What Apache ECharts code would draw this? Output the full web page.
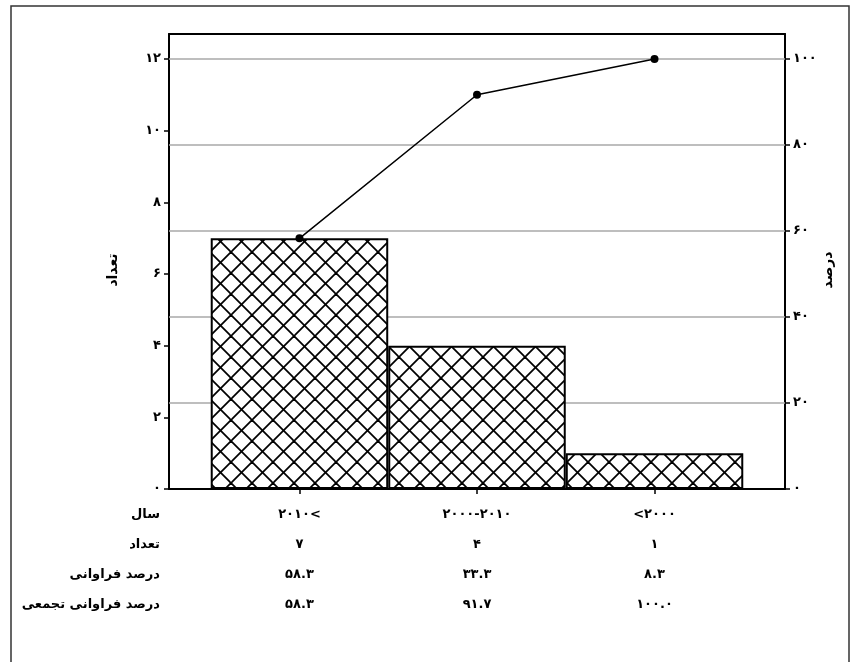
<!DOCTYPE html>
<html><head><meta charset="utf-8">
<script src="https://cdn.jsdelivr.net/npm/echarts@6/dist/echarts.min.js"></script>
<style>html,body{margin:0;padding:0;background:#fff}#c{width:850px;height:662px}</style>
</head><body><div id="c"></div>
<script>
// ---- data ----
const categories = ['۲۰۱۰<', '۲۰۰۰-۲۰۱۰', '<۲۰۰۰'];
const counts = [7, 4, 1];
const percents = [58.3, 33.3, 8.3];
const cumPercents = [58.3, 91.7, 100.0];
const rowTitles = ['سال', 'تعداد', 'درصد فراوانی', 'درصد فراوانی تجمعی'];
const leftTicks = [0, 2, 4, 6, 8, 10, 12];
const rightTicks = [0, 20, 40, 60, 80, 100];
const gridTicks = [20, 40, 60, 80, 100];
const leftTitle = 'تعداد';
const rightTitle = 'درصد';

// ---- helpers ----
const fa = s => String(s).replace(/[0-9]/g, d => '۰۱۲۳۴۵۶۷۸۹'[d]);
const ltr = s => '\u202D' + s + '\u202C';
const catIdx = categories.map((_, i) => i);
const FONT = 'DejaVu Sans';

const pc = document.createElement('canvas');
pc.width = 21; pc.height = 21;
const g = pc.getContext('2d');
g.fillStyle = '#fff'; g.fillRect(0, 0, 21, 21);
g.strokeStyle = '#000'; g.lineWidth = 1.8;
for (const o of [-21, 0, 21]) {
  g.beginPath(); g.moveTo(o - 3, -3); g.lineTo(o + 24, 24); g.stroke();
  g.beginPath(); g.moveTo(o + 24, -3); g.lineTo(o - 3, 24); g.stroke();
}

const chart = echarts.init(document.getElementById('c'), null, {renderer: 'canvas'});
const leftMax = 12.7;
const rightMax = leftMax / 12 * 100;

const option = {
  backgroundColor: '#fff',
  animation: false,
  grid: {left: 169, right: 65, top: 34, bottom: 173},
  xAxis: [{
    type: 'value', position: 'bottom', min: -0.735, max: 2.735,
    axisLine: {show: true, onZero: false, lineStyle: {color: '#000', width: 2}},
    axisTick: {show: true, customValues: catIdx, length: 5, lineStyle: {color: '#000', width: 1.5}},
    axisLabel: {
      customValues: catIdx, margin: 11, lineHeight: 30,
      fontFamily: FONT, fontWeight: 'bold', fontSize: 13, color: '#000',
      formatter: v => {
        const i = Math.round(v);
        return [ltr(categories[i]), fa(counts[i]), fa(percents[i].toFixed(1)), fa(cumPercents[i].toFixed(1))].join('\n');
      }
    },
    splitLine: {show: false}
  }, {
    type: 'value', position: 'top', min: -0.735, max: 2.735,
    axisLine: {show: true, onZero: false, lineStyle: {color: '#000', width: 2}},
    axisTick: {show: false}, axisLabel: {show: false}, splitLine: {show: false}
  }],
  yAxis: [{
    type: 'value', position: 'left', min: 0, max: leftMax,
    axisLine: {show: true, onZero: false, lineStyle: {color: '#000', width: 2}},
    axisTick: {show: true, customValues: leftTicks, length: 5, lineStyle: {color: '#000', width: 1.5}},
    axisLabel: {customValues: leftTicks, formatter: v => fa(v), margin: 8,
      fontFamily: FONT, fontWeight: 'bold', fontSize: 13, color: '#000'},
    splitLine: {show: false}
  }, {
    type: 'value', position: 'right', min: 0, max: rightMax,
    axisLine: {show: true, onZero: false, lineStyle: {color: '#000', width: 2}},
    axisTick: {show: true, customValues: rightTicks, length: 5, lineStyle: {color: '#000', width: 1.5}},
    axisLabel: {customValues: rightTicks, formatter: v => fa(v), margin: 8,
      fontFamily: FONT, fontWeight: 'bold', fontSize: 13, color: '#000'},
    splitLine: {show: false}
  }],
  series: [{
    type: 'bar', xAxisIndex: 0, yAxisIndex: 0,
    data: counts.map((v, i) => [i, v]),
    barWidth: 177.5,
    itemStyle: {color: {image: pc, repeat: 'repeat'}, borderColor: '#000', borderWidth: 2},
    z: 3
  }, {
    type: 'line', xAxisIndex: 0, yAxisIndex: 1,
    data: cumPercents.map((v, i) => [i, v]),
    symbol: 'circle', symbolSize: 8,
    itemStyle: {color: '#000'},
    lineStyle: {color: '#000', width: 1.5},
    z: 5,
    markLine: {
      silent: true, symbol: 'none', label: {show: false},
      lineStyle: {color: '#a8a8a8', width: 1.5, type: 'solid'},
      data: gridTicks.map(v => ({yAxis: v})),
      z: 1
    }
  }],
  graphic: [
    {type: 'rect', shape: {x: 11, y: 6, width: 838, height: 720}, style: {fill: null, stroke: '#333', lineWidth: 1.5}, silent: true},
    {type: 'text', x: 113, y: 270, rotation: Math.PI / 2,
      style: {text: leftTitle, font: 'bold 14px "DejaVu Sans"', fill: '#000', textAlign: 'center', textVerticalAlign: 'middle'}},
    {type: 'text', x: 828, y: 270, rotation: Math.PI / 2,
      style: {text: rightTitle, font: 'bold 14px "DejaVu Sans"', fill: '#000', textAlign: 'center', textVerticalAlign: 'middle'}}
  ].concat(rowTitles.map((t, i) => ({
    type: 'text', x: 160, y: 515 + 30 * i,
    style: {text: t, font: 'bold 13px "DejaVu Sans"', fill: '#000', textAlign: 'right', textVerticalAlign: 'middle'}
  })))
};
chart.setOption(option);
</script>
</body></html>
